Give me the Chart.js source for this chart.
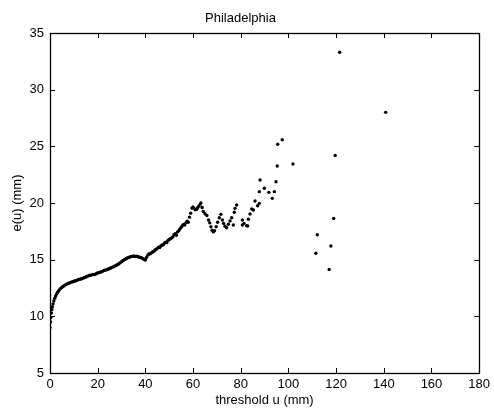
<!DOCTYPE html>
<html>
<head>
<meta charset="utf-8">
<script src="https://cdn.jsdelivr.net/npm/chart.js@4/dist/chart.umd.min.js"></script>
<style>
  html, body { margin: 0; padding: 0; background: #fff; }
  canvas { display: block; }
</style>
</head>
<body>
<canvas id="meChart" width="494" height="412"></canvas>
<script>
// mean excess e(u) against threshold u, Philadelphia rainfall
const threshold = [
    0, 0.2, 0.4, 0.6, 0.8, 1.0, 1.3, 1.6, 2.0, 2.4, 2.8, 3.2, 3.6, 4.0, 4.5, 5.0,
    5.5, 6.0, 6.5, 7.0, 7.5, 8.0, 8.5, 9.0, 9.5, 10.0, 10.5, 11.0, 11.5, 12.0, 12.5,
    13.0, 13.5, 14.0, 14.5, 15.0, 15.5, 16.0, 16.5, 17.0, 17.5, 18.0, 18.5, 19.0,
    19.5, 20.0, 20.5, 21.0, 21.5, 22.0, 22.5, 23.0, 23.5, 24.0, 24.5, 25.0, 25.5,
    26.0, 26.5, 27.0, 27.5, 28.0, 28.5, 29.0, 29.5, 30.0, 30.5, 31.0, 31.5, 32.0,
    32.5, 33.0, 33.5, 34.0, 34.5, 35.0, 35.5, 36.0, 36.5, 37.0, 37.5, 38.0, 38.5,
    39.0, 39.5, 40.0, 40.5, 41.0, 41.5, 42.0, 42.5, 43.0, 43.5, 44.0, 44.5, 45.0,
    45.5, 46.0, 46.5, 47.0, 47.5, 48.0, 48.5, 49.0, 49.5, 50.0, 50.5, 51.0, 51.5,
    52.0, 52.5, 53.0, 53.5, 54.0, 54.5, 55.0, 55.5, 56.0, 56.5, 57.0, 57.5, 58.0,
    58.5, 59.0, 59.5, 60.0, 60.5, 61.0, 61.5, 62.0, 62.5, 63.0, 63.3, 63.8, 64.3,
    65.0, 65.8, 66.5, 67.0, 67.5, 68.0, 68.5, 69.0, 69.7, 70.3, 71.0, 71.7, 72.3,
    72.8, 73.4, 74.1, 74.8, 75.5, 76.2, 76.9, 77.3, 77.6, 78.3, 80.7, 80.7, 81.4,
    82.5, 82.9, 83.2, 83.9, 84.6, 85.3, 86.0, 87.1, 87.8, 87.8, 88.1, 89.9, 91.8,
    93.2, 94.1, 94.8, 95.3, 95.5, 97.4, 101.9, 111.5, 112.1, 117.1, 117.8, 119.0,
    119.6, 121.5, 140.8
];
const meanExcess = [
    9.0, 9.5, 9.9, 10.3, 10.6, 10.85, 11.1, 11.35, 11.6, 11.8, 11.98, 12.12, 12.25,
    12.36, 12.47, 12.56, 12.64, 12.72, 12.78, 12.84, 12.9, 12.93, 12.98, 13.02,
    13.05, 13.09, 13.12, 13.15, 13.2, 13.24, 13.27, 13.3, 13.35, 13.38, 13.42,
    13.47, 13.52, 13.57, 13.6, 13.63, 13.66, 13.7, 13.68, 13.72, 13.78, 13.82,
    13.86, 13.88, 13.93, 13.97, 14.03, 14.06, 14.1, 14.12, 14.17, 14.22, 14.26,
    14.32, 14.36, 14.42, 14.47, 14.53, 14.58, 14.66, 14.74, 14.82, 14.9, 14.97,
    15.04, 15.1, 15.15, 15.2, 15.24, 15.27, 15.3, 15.31, 15.3, 15.28, 15.3, 15.26,
    15.22, 15.2, 15.15, 15.08, 15.02, 14.97, 15.2, 15.4, 15.5, 15.52, 15.6, 15.68,
    15.72, 15.85, 15.9, 16.0, 16.1, 16.08, 16.2, 16.3, 16.32, 16.45, 16.55, 16.5,
    16.7, 16.78, 16.85, 16.92, 17.0, 17.2, 17.3, 17.15, 17.45, 17.55, 17.7, 17.85,
    18.0, 18.1, 18.05, 18.25, 18.4, 18.3, 18.75, 19.1, 19.55, 19.65, 19.5, 19.4,
    19.45, 19.6, 19.75, 19.9, 20.0, 19.6, 19.25, 19.05, 18.9, 18.5, 18.25, 17.9,
    17.6, 17.45, 17.55, 17.9, 18.3, 18.7, 19.0, 18.5, 18.2, 17.95, 17.82, 18.12,
    18.41, 18.7, 18.06, 19.18, 19.53, 19.82, 18.5, 18.06, 18.2, 18.0, 17.97, 18.56,
    19.03, 19.47, 19.38, 20.17, 19.76, 19.97, 21.0, 22.03, 21.3, 20.94, 20.41, 21.0,
    21.88, 23.26, 25.18, 25.58, 23.44, 15.56, 17.2, 14.14, 16.2, 18.64, 24.2, 33.3,
    28.0
];

const xTicks = [0, 20, 40, 60, 80, 100, 120, 140, 160, 180];
const yTicks = [5, 10, 15, 20, 25, 30, 35];

const fontFamily = "'Liberation Sans', Arial, Helvetica, sans-serif";

let points = threshold.map((u, i) => ({ x: u, y: meanExcess[i] }));

// box around the axes with inward tick marks on all four sides
const boxFrame = {
    id: 'boxFrame',
    afterDraw(chart) {
        const { ctx, chartArea: a, scales } = chart;
        const len = 5;
        ctx.save();
        ctx.strokeStyle = '#000';
        ctx.lineWidth = 1;
        ctx.beginPath();
        xTicks.forEach(v => {
            const px = Math.round(scales.x.getPixelForValue(v)) + 0.5;
            ctx.moveTo(px, a.bottom); ctx.lineTo(px, a.bottom - len);
            ctx.moveTo(px, a.top); ctx.lineTo(px, a.top + len);
        });
        yTicks.forEach(v => {
            const py = Math.round(scales.y.getPixelForValue(v)) + 0.5;
            ctx.moveTo(a.left, py); ctx.lineTo(a.left + len, py);
            ctx.moveTo(a.right, py); ctx.lineTo(a.right - len, py);
        });
        ctx.stroke();
        ctx.lineWidth = 1.3;
        ctx.strokeRect(Math.round(a.left) + 0.5, Math.round(a.top) + 0.5,
            Math.round(a.right - a.left), Math.round(a.bottom - a.top));
        ctx.restore();
    }
};

let ctx = document.getElementById('meChart').getContext('2d');
let meChart = new Chart(ctx, {
    type: 'scatter',
    data: {
        datasets: [{
            label: 'e(u)',
            data: points,
            pointRadius: 1.7,
            pointHoverRadius: 1.7,
            pointBackgroundColor: '#000',
            pointBorderWidth: 0,
            showLine: false
        }]
    },
    plugins: [boxFrame],
    options: {
        responsive: false,
        animation: false,
        devicePixelRatio: 1,
        layout: {
            padding: { left: 0, right: 13, top: 0, bottom: 0 }
        },
        plugins: {
            legend: { display: false },
            tooltip: { enabled: false },
            title: {
                display: true,
                text: 'Philadelphia',
                color: '#000',
                font: { family: fontFamily, size: 13, weight: 'normal' },
                padding: { top: 11, bottom: 6.4 }
            }
        },
        scales: {
            x: {
                type: 'linear',
                min: 0,
                max: 180,
                afterBuildTicks: scale => { scale.ticks = xTicks.map(v => ({ value: v })); },
                afterFit: scale => { scale.height = 39; },
                grid: { display: false, drawTicks: false },
                border: { display: false },
                ticks: {
                    padding: 4,
                    color: '#000',
                    maxRotation: 0,
                    font: { family: fontFamily, size: 13 }
                },
                title: {
                    display: true,
                    text: 'threshold u (mm)',
                    color: '#000',
                    font: { family: fontFamily, size: 13 },
                    padding: { top: 0, bottom: 4 }
                }
            },
            y: {
                type: 'linear',
                min: 5,
                max: 35,
                afterBuildTicks: scale => { scale.ticks = yTicks.map(v => ({ value: v })); },
                afterFit: scale => { scale.width = 50; },
                grid: { display: false, drawTicks: false },
                border: { display: false },
                ticks: {
                    padding: 6,
                    color: '#000',
                    font: { family: fontFamily, size: 13 }
                },
                title: {
                    display: true,
                    text: 'e(u) (mm)',
                    color: '#000',
                    font: { family: fontFamily, size: 13 },
                    padding: { top: 10, bottom: 0 }
                }
            }
        }
    }
});
</script>
</body>
</html>
